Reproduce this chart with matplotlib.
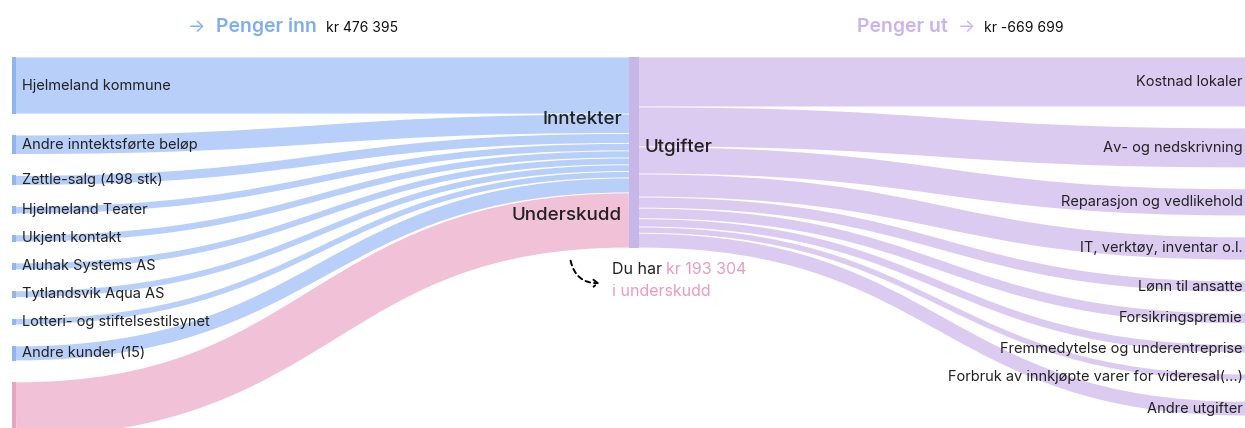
import numpy as np
import matplotlib.pyplot as plt
from matplotlib.path import Path
from matplotlib.patches import PathPatch, Rectangle, FancyArrowPatch

plt.rcParams['font.family'] = ['Inter', 'DejaVu Sans']

# data (kr)
inn_labels = ['Hjelmeland kommune', 'Andre inntektsførte beløp', 'Zettle-salg (498 stk)',
              'Hjelmeland Teater', 'Ukjent kontakt', 'Aluhak Systems AS',
              'Tytlandsvik Aqua AS', 'Lotteri- og stiftelsestilsynet', 'Andre kunder (15)']
inn_values = [200000, 68000, 35000, 26000, 25000, 24000, 23500, 22500, 52395]
ut_labels = ['Kostnad lokaler', 'Av- og nedskrivning', 'Reparasjon og vedlikehold',
             'IT, verktøy, inventar o.l.', 'Lønn til ansatte',
             'Forsikringspremie', 'Fremmedytelse og underentreprise',
             'Forbruk av innkjøpte varer for videresal(…)', 'Andre utgifter']
ut_values = [175000, 140000, 95000, 81000, 39000, 37000, 29000, 22000, 51699]
underskudd = 193304
total_inn = 476395
total_ut = 669699

blue, blue_node = '#b8cff9', '#8fb5f2'
pink, pink_node = '#f1c2d7', '#eaa4c3'
purple, purple_node = '#dccbf1', '#c7b6e8'
dark = '#222222'

W, H, dpi = 1245, 428, 100
fig = plt.figure(figsize=(W / dpi, H / dpi), dpi=dpi)
ax = fig.add_axes([0, 0, 1, 1])
ax.set_xlim(0, W)
ax.set_ylim(H, 0)
ax.axis('off')

# layout
top, bottom, pad = 57, 437, 21
x_left, x_mid, x_right = 12, 629, 1245
nw_left, nw_mid = 4, 10
src_vals = inn_values + [underskudd]
ky = (bottom - top - (len(src_vals) - 1) * pad) / sum(src_vals)


def link(x0, y0, x1, y1, w, color):
    xm = (x0 + x1) / 2
    p = Path([(x0, y0), (xm, y0), (xm, y1), (x1, y1)],
             [Path.MOVETO, Path.CURVE4, Path.CURVE4, Path.CURVE4])
    ax.add_patch(PathPatch(p, fc='none', ec=color, capstyle='butt',
                           lw=max(w * ky - 0.9, 0.6) * 72 / dpi))


# left -> middle
y_src = top
y_tgt = top
for i, v in enumerate(src_vals):
    h = v * ky
    is_pink = i == len(src_vals) - 1
    link(x_left + nw_left, y_src + h / 2, x_mid, y_tgt + h / 2, v,
         pink if is_pink else blue)
    ax.add_patch(Rectangle((x_left, y_src), nw_left, h,
                           color=pink_node if is_pink else blue_node, lw=0))
    if not is_pink:
        ax.text(x_left + 10, y_src + h / 2, inn_labels[i], ha='left', va='center',
                fontsize=10.5, color=dark)
    y_src += h + pad
    y_tgt += h

# middle -> right
y_src = top
y_tgt = top
for lab, v in zip(ut_labels, ut_values):
    h = v * ky
    link(x_mid + nw_mid, y_src + h / 2, x_right, y_tgt + h / 2, v, purple)
    ax.text(x_right - 2, y_tgt + h / 2, lab, ha='right', va='center',
            fontsize=10.5, color=dark)
    y_src += h
    y_tgt += h + pad

ax.add_patch(Rectangle((x_mid, top), nw_mid, total_ut * ky, color=purple_node, lw=0))

# middle labels
h_inn = total_inn * ky
ax.text(x_mid - 7, top + h_inn / 2 - 5, 'Inntekter', ha='right', va='center',
        fontsize=13.5, fontweight='medium', color=dark)
ax.text(x_mid - 7, top + h_inn + underskudd * ky / 2 - 5, 'Underskudd', ha='right',
        va='center', fontsize=13.5, fontweight='medium', color=dark)
ax.text(x_mid + nw_mid + 6, top + total_ut * ky / 2 - 5, 'Utgifter', ha='left',
        va='center', fontsize=13.5, fontweight='medium', color=dark)

# headers
ax.text(205, 27, '→', ha='right', va='center', fontsize=13, color='#7eaef2')
ax.text(216, 27, 'Penger inn', ha='left', va='center', fontsize=14,
        fontweight='semibold', color='#7eaef2')
ax.text(326, 28, 'kr 476 395', ha='left', va='center', fontsize=10, color='#111111')
ax.text(857, 27, 'Penger ut', ha='left', va='center', fontsize=14,
        fontweight='semibold', color='#c9b4ef')
ax.text(958, 27, '→', ha='left', va='center', fontsize=13, color='#c9b4ef')
ax.text(984, 28, 'kr -669 699', ha='left', va='center', fontsize=10, color='#111111')

# deficit note
ax.add_patch(FancyArrowPatch((570, 258), (602, 283), connectionstyle='arc3,rad=0.45',
                             arrowstyle='->,head_length=3,head_width=2.5', ls=(0, (2.5, 2)),
                             lw=1.4, color='black'))
t = ax.text(612, 270, 'Du har ', ha='left', va='center', fontsize=11.5, color=dark)
ax.annotate('kr 193 304', xycoords=t, xy=(1, 0.5), va='center', ha='left',
            fontsize=11.5, color='#ea9bbf')
ax.text(612, 292, 'i underskudd', ha='left', va='center', fontsize=11.5, color='#ea9bbf')

fig.savefig('out.png', dpi=dpi)
